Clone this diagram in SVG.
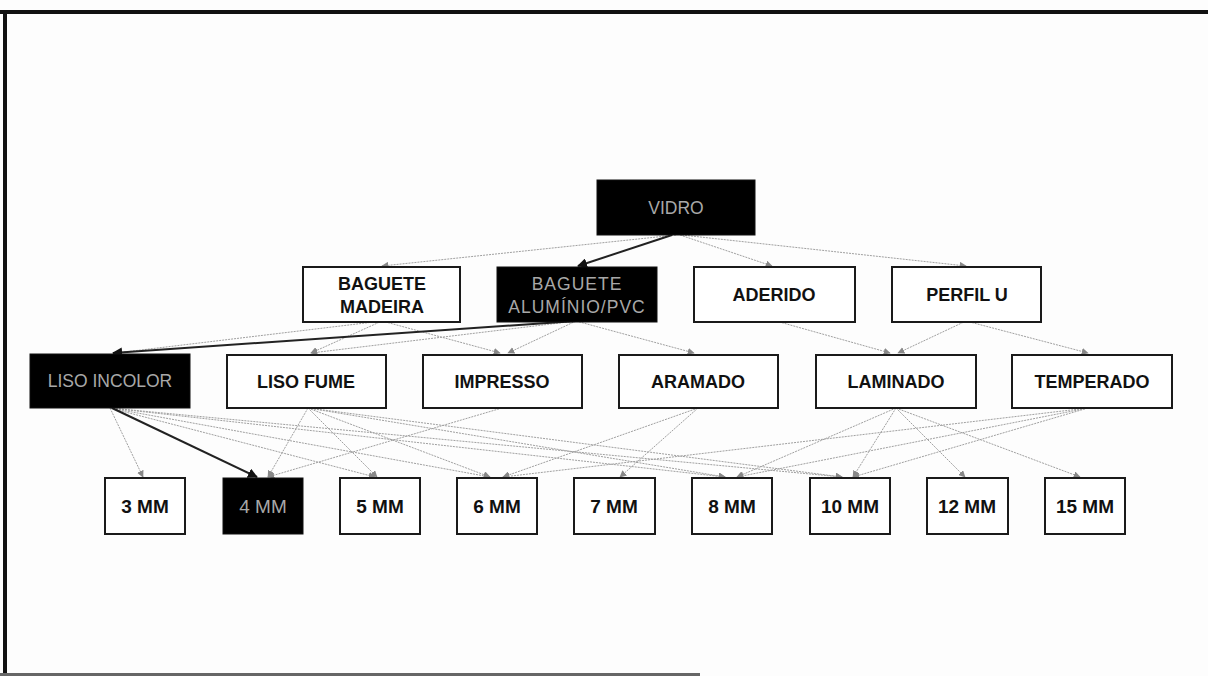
<svg xmlns="http://www.w3.org/2000/svg" width="1208" height="676" viewBox="0 0 1208 676">
<style>
.box{fill:#fff;stroke:#1a1a1a;stroke-width:2}
.dark{fill:#000;stroke:#111;stroke-width:1}
.lbl{font-family:"Liberation Sans",Arial,sans-serif;font-weight:bold;font-size:18px;fill:#111;text-anchor:middle}
.sm{font-size:19px}
.inv{font-family:"Liberation Sans",Arial,sans-serif;font-weight:normal;font-size:17.5px;fill:#a8a8a8;text-anchor:middle}
.c{fill:none;stroke:#a0a0a0;stroke-width:1;stroke-dasharray:2 1;marker-end:url(#ag)}
.h{fill:none;stroke:#222;stroke-width:2;marker-end:url(#ad)}
</style>
<defs>
<marker id="ag" viewBox="0 0 10 10" refX="9" refY="5" markerWidth="7" markerHeight="7" markerUnits="userSpaceOnUse" orient="auto">
<path d="M0,0 L10,5 L0,10 z" fill="#888"/>
</marker>
<marker id="ad" viewBox="0 0 10 10" refX="9" refY="5" markerWidth="10" markerHeight="10" markerUnits="userSpaceOnUse" orient="auto">
<path d="M0,0 L10,5 L0,10 z" fill="#111"/>
</marker>
</defs>
<rect width="1208" height="676" fill="#fdfdfd"/>
<g id="frame">
<line x1="0" y1="12" x2="1208" y2="12" stroke="#111" stroke-width="4"/>
<line x1="5" y1="10" x2="5" y2="676" stroke="#111" stroke-width="4"/>
<line x1="0" y1="674.5" x2="700" y2="674.5" stroke="#666" stroke-width="3"/>
</g>
<g id="connectors">
<path class="c" d="M676,235 L382,266"/>
<path class="c" d="M680,235 L772,266"/>
<path class="c" d="M682,235 L966,266"/>
<path class="h" d="M672,235 L578,266"/>
<path class="c" d="M382,321 L116,353"/>
<path class="c" d="M382,321 L311,353"/>
<path class="c" d="M382,321 L500,353"/>
<path class="c" d="M576,321 L311,353"/>
<path class="c" d="M576,321 L508,353"/>
<path class="c" d="M576,321 L694,353"/>
<path class="h" d="M576,321 L113,353"/>
<path class="c" d="M776,321 L890,353"/>
<path class="c" d="M966,321 L898,353"/>
<path class="c" d="M966,321 L1088,353"/>
<path class="c" d="M110,408 L143,477"/>
<path class="c" d="M110,408 L375,477"/>
<path class="c" d="M110,408 L490,477"/>
<path class="c" d="M110,408 L725,477"/>
<path class="c" d="M110,408 L842,477"/>
<path class="c" d="M308,408 L268,477"/>
<path class="c" d="M308,408 L377,477"/>
<path class="c" d="M308,408 L490,477"/>
<path class="c" d="M308,408 L725,477"/>
<path class="c" d="M308,408 L842,477"/>
<path class="c" d="M502,408 L268,477"/>
<path class="c" d="M698,408 L503,477"/>
<path class="c" d="M698,408 L620,477"/>
<path class="c" d="M896,408 L737,477"/>
<path class="c" d="M896,408 L853,477"/>
<path class="c" d="M896,408 L965,477"/>
<path class="c" d="M896,408 L1080,477"/>
<path class="c" d="M1088,408 L503,477"/>
<path class="c" d="M1088,408 L737,477"/>
<path class="c" d="M1088,408 L853,477"/>
<path class="h" d="M112,408 L257,477"/>
</g>
<g id="n-vidro"><rect class="dark" x="597" y="180" width="158" height="55"/><text class="inv" x="676" y="214">VIDRO</text></g>
<g id="n-madeira"><rect class="box" x="303" y="267" width="157" height="55"/><text class="lbl" x="382" y="290">BAGUETE</text><text class="lbl" x="382" y="313">MADEIRA</text></g>
<g id="n-aluminio"><rect class="dark" x="497" y="267" width="160" height="55"/><text class="inv" x="577" y="290" letter-spacing="1">BAGUETE</text><text class="inv" x="577" y="313" letter-spacing="1">ALUMÍNIO/PVC</text></g>
<g id="n-aderido"><rect class="box" x="694" y="267" width="161" height="55"/><text class="lbl" x="774" y="301">ADERIDO</text></g>
<g id="n-perfil"><rect class="box" x="892" y="267" width="149" height="55"/><text class="lbl" x="967" y="301">PERFIL U</text></g>
<g id="n-incolor"><rect class="dark" x="30" y="354" width="160" height="54"/><text class="inv" x="110" y="387">LISO INCOLOR</text></g>
<g id="n-fume"><rect class="box" x="227" y="355" width="159" height="53"/><text class="lbl" x="306" y="388">LISO FUME</text></g>
<g id="n-impresso"><rect class="box" x="423" y="355" width="159" height="53"/><text class="lbl" x="502" y="388">IMPRESSO</text></g>
<g id="n-aramado"><rect class="box" x="619" y="355" width="159" height="53"/><text class="lbl" x="698" y="388">ARAMADO</text></g>
<g id="n-laminado"><rect class="box" x="816" y="355" width="160" height="53"/><text class="lbl" x="896" y="388">LAMINADO</text></g>
<g id="n-temperado"><rect class="box" x="1012" y="355" width="160" height="53"/><text class="lbl" x="1092" y="388">TEMPERADO</text></g>
<g id="n-3mm"><rect class="box" x="105" y="478" width="80" height="56"/><text class="lbl sm" x="145" y="513">3 MM</text></g>
<g id="n-4mm"><rect class="dark" x="223" y="478" width="80" height="56"/><text class="inv" x="263" y="513" style="font-size:19px">4 MM</text></g>
<g id="n-5mm"><rect class="box" x="340" y="478" width="80" height="56"/><text class="lbl sm" x="380" y="513">5 MM</text></g>
<g id="n-6mm"><rect class="box" x="457" y="478" width="80" height="56"/><text class="lbl sm" x="497" y="513">6 MM</text></g>
<g id="n-7mm"><rect class="box" x="574" y="478" width="81" height="56"/><text class="lbl sm" x="614" y="513">7 MM</text></g>
<g id="n-8mm"><rect class="box" x="692" y="478" width="80" height="56"/><text class="lbl sm" x="732" y="513">8 MM</text></g>
<g id="n-10mm"><rect class="box" x="810" y="478" width="80" height="56"/><text class="lbl sm" x="850" y="513">10 MM</text></g>
<g id="n-12mm"><rect class="box" x="927" y="478" width="81" height="56"/><text class="lbl sm" x="967" y="513">12 MM</text></g>
<g id="n-15mm"><rect class="box" x="1045" y="478" width="80" height="56"/><text class="lbl sm" x="1085" y="513">15 MM</text></g>
</svg>
